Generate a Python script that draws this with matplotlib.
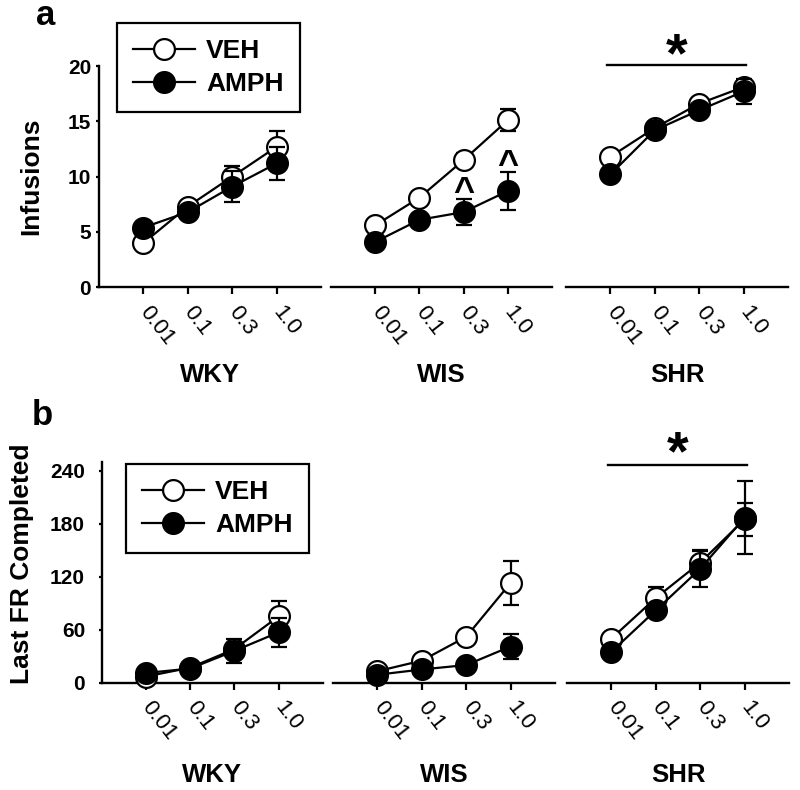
import numpy as np
import matplotlib
matplotlib.use("Agg")
import matplotlib.pyplot as plt
from matplotlib.lines import Line2D
from matplotlib.transforms import offset_copy

plt.rcParams['font.family'] = ['Liberation Sans', 'DejaVu Sans']

# ---------------- data ----------------
strains = ['WKY', 'WIS', 'SHR']
doses = ['0.01', '0.1', '0.3', '1.0']

# panel a: infusions (rows = WKY, WIS, SHR)
inf_veh = [[4.0, 7.3, 10.0, 12.7],
           [5.6, 8.1, 11.5, 15.1],
           [11.8, 14.4, 16.6, 18.1]]
inf_veh_sem = [[0.3, 0.4, 1.0, 1.4],
               [0.4, 0.5, 0.6, 1.0],
               [0.5, 0.5, 0.4, 0.6]]
inf_amph = [[5.4, 6.8, 9.1, 11.2],
            [4.1, 6.1, 6.8, 8.7],
            [10.2, 14.2, 16.0, 17.7]]
inf_amph_sem = [[0.5, 0.5, 1.4, 1.5],
                [0.4, 0.5, 1.2, 1.7],
                [0.5, 0.6, 0.6, 1.1]]

# panel b: last FR completed
fr_veh = [[7, 17, 38, 75],
          [13, 25, 52, 113],
          [50, 96, 136, 185]]
fr_veh_sem = [[3, 3, 6, 18],
              [3, 5, 6, 25],
              [5, 12, 13, 19]]
fr_amph = [[11, 16, 36, 57],
           [9, 15, 20, 41],
           [35, 82, 129, 187]]
fr_amph_sem = [[3, 3, 14, 16],
               [3, 4, 5, 14],
               [4, 6, 21, 41]]

inf_ticks = [0, 5, 10, 15, 20]
fr_ticks = [0, 60, 120, 180, 240]

# significance marks (dose index from 1, y in data units)
caret_pos_a = [(3, 9.4), (4, 11.9)]   # WIS, VEH vs AMPH
star_y_a, star_line_a = 21.7, 20.1      # SHR main effect
star_y_b, star_line_b = 269, 246.5

# ---------------- layout ----------------
W, H = 800, 790
fig = plt.figure(figsize=(8, 7.9), dpi=100)


def rect(x0, x1, ytop, ybot):
    return [x0 / W, 1 - ybot / H, (x1 - x0) / W, (ybot - ytop) / H]


def draw_panel(segs, ytop, ybot, ymax, yticks, veh, veh_sem, amph, amph_sem,
               ylabel, ylabel_xy, ypad, xname_y):
    axes = []
    x = np.arange(1, 5)
    for i, (x0, x1) in enumerate(segs):
        ax = fig.add_axes(rect(x0, x1, ytop, ybot))
        ax.set_xlim(0, 5)
        ax.set_ylim(0, ymax)
        ax.errorbar(x, veh[i], yerr=veh_sem[i], fmt='-o', color='black',
                    mfc='white', mec='black', ms=15, mew=1.6, lw=1.6,
                    elinewidth=1.6, capsize=5.5, capthick=1.6, zorder=3,
                    clip_on=False)
        ax.errorbar(x, amph[i], yerr=amph_sem[i], fmt='-o', color='black',
                    mfc='black', mec='black', ms=15, mew=1.6, lw=1.6,
                    elinewidth=1.6, capsize=5.5, capthick=1.6, zorder=4,
                    clip_on=False)
        for s in ['top', 'right']:
            ax.spines[s].set_visible(False)
        ax.spines['bottom'].set_linewidth(1.7)
        ax.spines['left'].set_linewidth(1.7)
        ax.set_xticks(x)
        ax.set_xticklabels(doses, fontsize=16)
        plt.setp(ax.get_xticklabels(), rotation=-52, ha='left', va='center',
                 rotation_mode='anchor')
        ax.tick_params(axis='x', length=5, width=1.6, pad=10)
        if i == 0:
            ax.set_yticks(yticks)
            ax.set_yticklabels([str(t) for t in yticks], fontsize=15,
                               fontweight='bold')
            ax.tick_params(axis='y', length=2.5, width=1.6, pad=ypad)
        else:
            ax.spines['left'].set_visible(False)
            ax.set_yticks([])
        ax.text(0.5, xname_y, strains[i], transform=ax.transAxes,
                ha='center', va='center', fontsize=18.5, fontweight='bold')
        axes.append(ax)
    fig.text(ylabel_xy[0] / W, 1 - ylabel_xy[1] / H, ylabel, rotation=90,
             ha='center', va='center', fontsize=19, fontweight='bold')
    return axes


axes_a = draw_panel([(99, 321), (331, 552), (566, 788)], 66, 287.3, 20,
                    inf_ticks, inf_veh, inf_veh_sem, inf_amph, inf_amph_sem,
                    'Infusions', (31, 176), 3.2, -0.396)
axes_b = draw_panel([(101.7, 322.7), (333, 555), (567, 789)], 462, 682.7, 250,
                    fr_ticks, fr_veh, fr_veh_sem, fr_amph, fr_amph_sem,
                    'Last FR Completed', (22, 564), 9.5, -0.418)

# significance annotations (glyphs sit high in their boxes, so nudge down)
wis = axes_a[1]
caret_tr = offset_copy(wis.transData, fig=fig, y=-19, units='dots')
for px, py in caret_pos_a:
    wis.text(px, py, '^', transform=caret_tr, ha='center', va='baseline',
             fontsize=26, fontweight='bold', clip_on=False)
for ax, ly, sy in [(axes_a[2], star_line_a, star_y_a),
                   (axes_b[2], star_line_b, star_y_b)]:
    ax.plot([0.93, 4.05], [ly, ly], color='black', lw=1.7, clip_on=False)
    star_tr = offset_copy(ax.transData, fig=fig, y=-10, units='dots')
    ax.text(2.49, sy, '*', transform=star_tr, ha='center', va='center',
            fontsize=40, fontweight='bold', clip_on=False)

# legends
handles = [Line2D([], [], color='black', marker='o', mfc='white', mec='black',
                  ms=15, mew=1.6, lw=1.6),
           Line2D([], [], color='black', marker='o', mfc='black', mec='black',
                  ms=15, mew=1.6, lw=1.6)]
for (lx, ly) in [(117, 23), (126, 464)]:
    leg = fig.legend(handles, ['VEH', 'AMPH'], loc='upper left',
                     bbox_to_anchor=(lx / W, 1 - ly / H),
                     bbox_transform=fig.transFigure, fancybox=False,
                     frameon=True, edgecolor='black', framealpha=1,
                     prop=dict(weight='bold', size=19), handlelength=2.35,
                     handletextpad=0.4, labelspacing=0.33, borderpad=0.62,
                     borderaxespad=0)
    leg.get_frame().set_linewidth(1.6)

# panel letters
fig.text(36 / W, 1 - 25 / H, 'a', ha='left', va='baseline', fontsize=25,
         fontweight='bold')
fig.text(32 / W, 1 - 425 / H, 'b', ha='left', va='baseline', fontsize=25,
         fontweight='bold')

fig.savefig('out.png', dpi=100)
